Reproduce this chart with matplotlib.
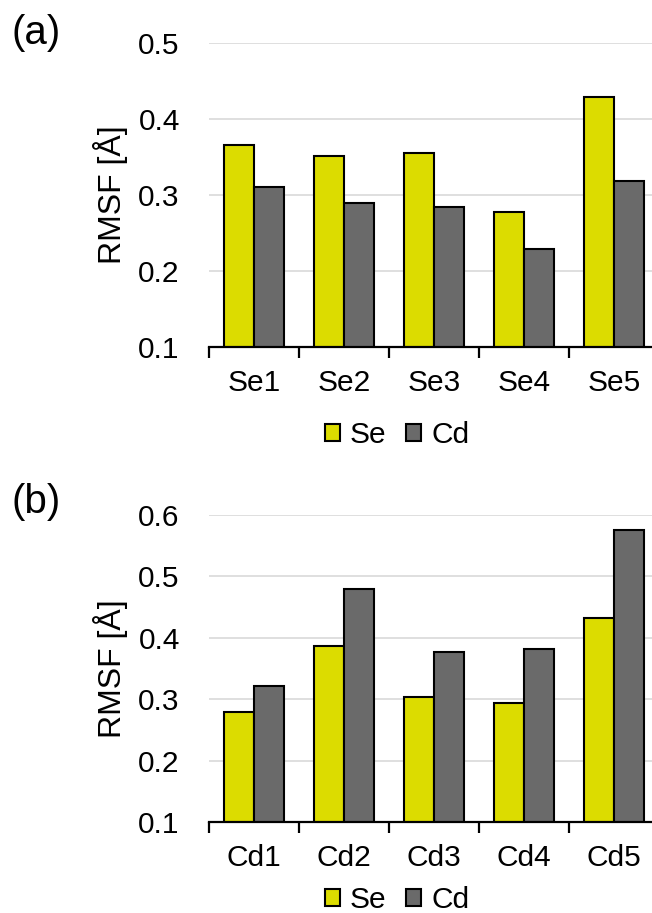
import numpy as np
from matplotlib import pyplot as plt

plt.rcParams['font.family'] = ['Liberation Sans', 'DejaVu Sans']

se_sites = ['Se1', 'Se2', 'Se3', 'Se4', 'Se5']
se_panel_se = [0.366, 0.351, 0.355, 0.277, 0.429]
se_panel_cd = [0.310, 0.289, 0.284, 0.229, 0.319]

cd_sites = ['Cd1', 'Cd2', 'Cd3', 'Cd4', 'Cd5']
cd_panel_se = [0.279, 0.387, 0.304, 0.294, 0.432]
cd_panel_cd = [0.322, 0.480, 0.377, 0.382, 0.575]

yellow = '#dcdc00'
gray = '#6a6a6a'
fs = 21.5


def draw_panel(ax, labels, se_vals, cd_vals, ymax, legend_y):
    x = np.arange(len(labels))
    w = 0.335
    ax.bar(x - w / 2, se_vals, w, color=yellow, edgecolor='black', linewidth=1.5, label='Se', zorder=3)
    ax.bar(x + w / 2, cd_vals, w, color=gray, edgecolor='black', linewidth=1.5, label='Cd', zorder=3)
    ax.set_xlim(-0.5, len(labels) - 0.5)
    ax.set_ylim(0.1, ymax)
    yt = np.arange(0.1, ymax + 0.001, 0.1)
    ax.set_yticks(yt)
    ax.set_yticklabels([f'{v:.1f}' for v in yt])
    ax.yaxis.grid(True, color='#d9d9d9', linewidth=1.2, zorder=0)
    ax.set_axisbelow(True)
    for s in ['top', 'right', 'left']:
        ax.spines[s].set_visible(False)
    ax.spines['bottom'].set_linewidth(1.6)
    ax.spines['bottom'].set_zorder(4)
    ax.tick_params(axis='y', length=0, labelsize=fs, pad=21)
    # boundary ticks without labels, labels at category centres
    ax.set_xticks(np.arange(-0.5, len(labels) - 0.5, 1.0))
    ax.set_xticklabels([])
    ax.set_xticks(x, minor=True)
    ax.set_xticklabels(labels, minor=True)
    ax.tick_params(axis='x', which='major', direction='out', length=8, width=1.6)
    ax.tick_params(axis='x', which='minor', length=0, labelsize=fs, pad=16)
    ax.set_ylabel('RMSF [Å]', fontsize=23)
    ax.yaxis.set_label_coords(-0.18, 0.5)
    h, l = ax.get_legend_handles_labels()
    fig.legend(h, l, loc='center', bbox_to_anchor=(0.609, legend_y), ncol=2, frameon=False,
               fontsize=fs, handlelength=0.5, handleheight=0.5, handletextpad=0.35,
               columnspacing=0.65, borderaxespad=0, borderpad=0)


fig = plt.figure(figsize=(6.52, 9.13), dpi=100)
ax1 = fig.add_axes([0.3206, 0.6199, 0.690, 0.333])
ax2 = fig.add_axes([0.3206, 0.0997, 0.690, 0.3363])

draw_panel(ax1, se_sites, se_panel_se, se_panel_cd, 0.5, 0.5236)
draw_panel(ax2, cd_sites, cd_panel_se, cd_panel_cd, 0.6, 0.0142)

fig.text(0.018, 0.9639, '(a)', fontsize=29, va='center', ha='left')
fig.text(0.018, 0.450, '(b)', fontsize=29, va='center', ha='left')

plt.savefig('out.png', dpi=100)
